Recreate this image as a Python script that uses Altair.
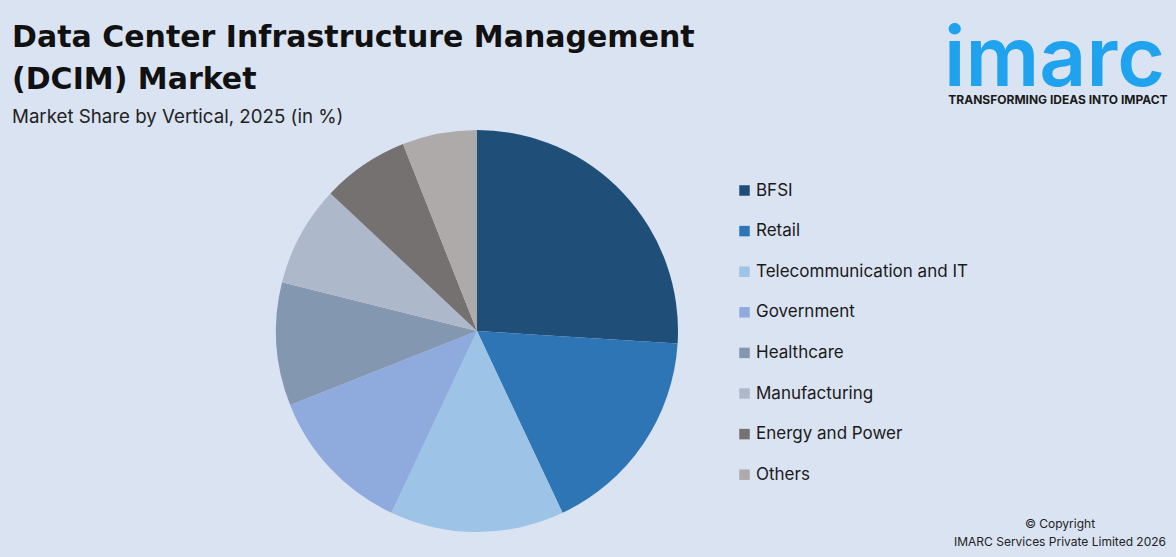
import altair as alt
import pandas as pd

# Market share by vertical, 2025 (%)
verticals = [
    "BFSI",
    "Retail",
    "Telecommunication and IT",
    "Government",
    "Healthcare",
    "Manufacturing",
    "Energy and Power",
    "Others",
]
shares = [26.0, 17.0, 14.0, 12.0, 9.9, 8.1, 7.0, 6.0]
palette = ["#1f4e79", "#2e75b6", "#9dc3e6", "#8faadc", "#8497b0", "#adb9ca", "#767171", "#aeaaaa"]

BG = "#dae3f2"
FONT = "Inter"

df = pd.DataFrame({"vertical": verticals, "share": shares, "rank": range(len(verticals))})

pie = (
    alt.Chart(df)
    .mark_arc(radius=201, stroke=None)
    .encode(
        theta=alt.Theta("share:Q", stack=True),
        order=alt.Order("rank:Q"),
        color=alt.Color(
            "vertical:N",
            scale=alt.Scale(domain=verticals, range=palette),
            sort=verticals,
            legend=alt.Legend(
                title=None,
                orient="none",
                legendX=736,
                legendY=182,
                symbolType="square",
                symbolSize=110,
                symbolStrokeWidth=0,
                labelFont=FONT,
                labelFontSize=17,
                labelColor="#1a1a1a",
                labelOffset=3,
                rowPadding=22.6,
                labelLimit=400,
            ),
        ),
        x=alt.value(477),
        y=alt.value(331),
    )
)


def label(text, x, y, size, weight="normal", color="#111111", align="left", font=FONT):
    return (
        alt.Chart(alt.Data(values=[{}]))
        .mark_text(
            text=text,
            font=font,
            fontSize=size,
            fontWeight=weight,
            color=color,
            align=align,
            baseline="alphabetic",
        )
        .encode(x=alt.value(x), y=alt.value(y))
    )


texts = [
    label("Data Center Infrastructure Management", 12, 47, 30, "bold", font="DejaVu Sans"),
    label("(DCIM) Market", 12, 89, 30, "bold", font="DejaVu Sans"),
    label("Market Share by Vertical, 2025 (in %)", 12, 123, 18.7, "normal", "#222222"),
    label("imarc", 944, 86, 82, 600, "#1fa3ee"),
    label("TRANSFORMING IDEAS INTO IMPACT", 1058, 104, 12, "bold", "#1a1a1a", "center"),
    label("© Copyright", 1060, 528, 12, "normal", "#222222", "center"),
    label("IMARC Services Private Limited 2026", 1060, 546, 12, "normal", "#222222", "center"),
]

chart = (
    alt.layer(pie, *texts)
    .properties(width=1176, height=557, background=BG, padding=0, autosize=alt.AutoSizeParams(type="none"))
    .configure_view(stroke=None)
)

chart.save("out.html", embed_options={"renderer": "svg", "actions": False})
